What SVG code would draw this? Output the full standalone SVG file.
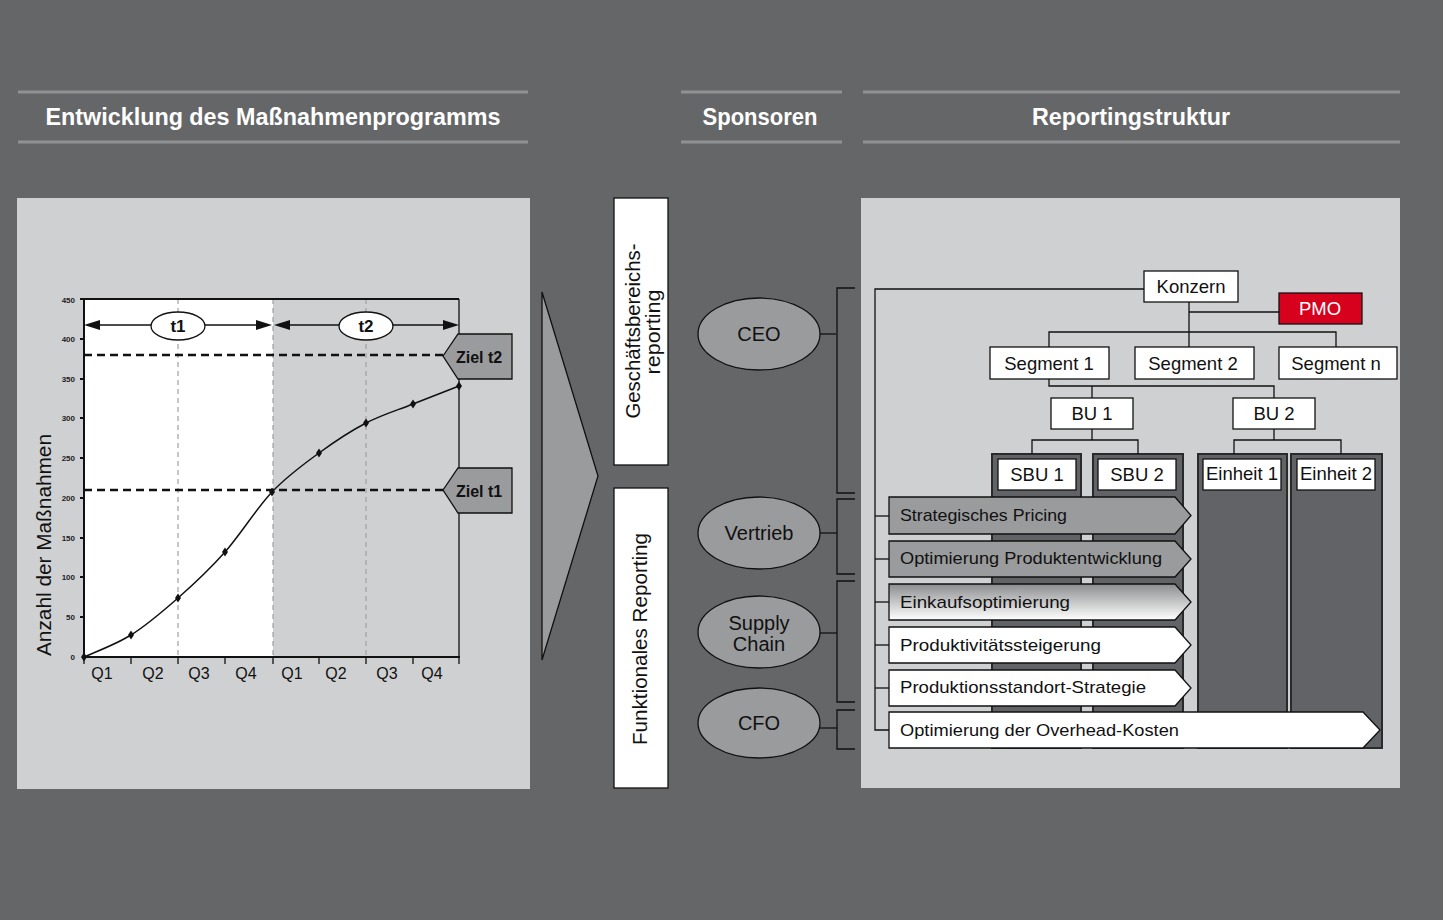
<svg xmlns="http://www.w3.org/2000/svg" width="1443" height="920" viewBox="0 0 1443 920">
<style>
.hdr{font-family:"Liberation Sans",Arial,sans-serif;font-weight:bold;font-size:23px;fill:#ffffff;text-anchor:middle}
.hl{stroke:#909193;stroke-width:3}
.t{font-family:"Liberation Sans",Arial,sans-serif;fill:#111}
.yl{font-family:"Liberation Sans",Arial,sans-serif;font-weight:bold;font-size:8px;fill:#222;text-anchor:end}
.q{font-family:"Liberation Sans",Arial,sans-serif;font-size:16px;fill:#111;text-anchor:middle}
.bx{fill:#fff;stroke:#111;stroke-width:1.3}
.col{fill:#626366;stroke:#2a2a2a;stroke-width:2}
.ln{stroke:#111;stroke-width:1.3;fill:none}
.ell{fill:#9a9b9d;stroke:#111;stroke-width:1.3}
.arr{stroke:#111;stroke-width:1.3}
.org{font-family:"Liberation Sans",Arial,sans-serif;font-size:18.5px;fill:#111;text-anchor:middle}
.at{font-family:"Liberation Sans",Arial,sans-serif;font-size:17px;fill:#111}
</style>
<defs>
<linearGradient id="g3" x1="0" y1="0" x2="0" y2="1">
<stop offset="0" stop-color="#8c8d8f"/>
<stop offset="1" stop-color="#ffffff"/>
</linearGradient>
<path id="dm" d="M0,-4.5 L3,0 L0,4.5 L-3,0Z" fill="#111"/>
</defs>
<rect width="1443" height="920" fill="#656668"/>

<!-- headers -->
<g id="headers">
<line class="hl" x1="18" y1="92" x2="528" y2="92"/>
<line class="hl" x1="18" y1="142" x2="528" y2="142"/>
<text class="hdr" x="273" y="125" textLength="455" lengthAdjust="spacingAndGlyphs">Entwicklung des Maßnahmenprogramms</text>
<line class="hl" x1="681" y1="92" x2="842" y2="92"/>
<line class="hl" x1="681" y1="142" x2="842" y2="142"/>
<text class="hdr" x="760" y="125" textLength="115" lengthAdjust="spacingAndGlyphs">Sponsoren</text>
<line class="hl" x1="863" y1="92" x2="1400" y2="92"/>
<line class="hl" x1="863" y1="142" x2="1400" y2="142"/>
<text class="hdr" x="1131" y="125" textLength="198" lengthAdjust="spacingAndGlyphs">Reportingstruktur</text>
</g>

<!-- left chart panel -->
<g id="chart">
<rect x="17" y="198" width="513" height="591" fill="#cfd0d2"/>
<rect x="84" y="299" width="189" height="358" fill="#ffffff"/>
<g stroke="#a0a1a3" stroke-width="1.2" stroke-dasharray="5 4">
<line x1="178" y1="299" x2="178" y2="657"/>
<line x1="273" y1="299" x2="273" y2="657"/>
<line x1="366" y1="299" x2="366" y2="657"/>
</g>
<line x1="84" y1="299" x2="459" y2="299" stroke="#111" stroke-width="2"/>
<line x1="459" y1="299" x2="459" y2="657" stroke="#111" stroke-width="1.3"/>
<line x1="84" y1="298" x2="84" y2="658" stroke="#111" stroke-width="2"/>
<line x1="83" y1="657" x2="460" y2="657" stroke="#111" stroke-width="2.2"/>
<g stroke="#111" stroke-width="1.3">
<line x1="84" y1="657" x2="84" y2="664"/>
<line x1="131" y1="657" x2="131" y2="664"/>
<line x1="178" y1="657" x2="178" y2="664"/>
<line x1="225" y1="657" x2="225" y2="664"/>
<line x1="273" y1="657" x2="273" y2="664"/>
<line x1="319" y1="657" x2="319" y2="664"/>
<line x1="366" y1="657" x2="366" y2="664"/>
<line x1="413" y1="657" x2="413" y2="664"/>
<line x1="459" y1="657" x2="459" y2="664"/>
</g>
<g stroke="#111" stroke-width="2">
<line x1="80" y1="299" x2="84" y2="299"/>
<line x1="80" y1="339" x2="84" y2="339"/>
<line x1="80" y1="379" x2="84" y2="379"/>
<line x1="80" y1="418" x2="84" y2="418"/>
<line x1="80" y1="458" x2="84" y2="458"/>
<line x1="80" y1="498" x2="84" y2="498"/>
<line x1="80" y1="538" x2="84" y2="538"/>
<line x1="80" y1="577" x2="84" y2="577"/>
<line x1="80" y1="617" x2="84" y2="617"/>
</g>
<text class="yl" x="75" y="303">450</text>
<text class="yl" x="75" y="342">400</text>
<text class="yl" x="75" y="382">350</text>
<text class="yl" x="75" y="421">300</text>
<text class="yl" x="75" y="461">250</text>
<text class="yl" x="75" y="501">200</text>
<text class="yl" x="75" y="541">150</text>
<text class="yl" x="75" y="580">100</text>
<text class="yl" x="75" y="620">50</text>
<text class="yl" x="75" y="660">0</text>
<text class="q" x="102" y="679">Q1</text>
<text class="q" x="153" y="679">Q2</text>
<text class="q" x="199" y="679">Q3</text>
<text class="q" x="246" y="679">Q4</text>
<text class="q" x="292" y="679">Q1</text>
<text class="q" x="336" y="679">Q2</text>
<text class="q" x="387" y="679">Q3</text>
<text class="q" x="432" y="679">Q4</text>
<text class="t" transform="translate(51,545) rotate(-90)" text-anchor="middle" font-size="20" textLength="222" lengthAdjust="spacingAndGlyphs">Anzahl der Maßnahmen</text>
<!-- target dashed lines -->
<g stroke="#111" stroke-width="2.5" stroke-dasharray="8 5">
<line x1="84" y1="355" x2="444" y2="355"/>
<line x1="84" y1="490" x2="444" y2="490"/>
</g>
<!-- period arrows -->
<line x1="98" y1="325" x2="260" y2="325" stroke="#111" stroke-width="1.3"/>
<polygon points="84,325 100,320 100,330" fill="#111"/>
<polygon points="272,325 256,320 256,330" fill="#111"/>
<line x1="288" y1="325" x2="445" y2="325" stroke="#111" stroke-width="1.3"/>
<polygon points="274,325 290,320 290,330" fill="#111"/>
<polygon points="459,325 443,320 443,330" fill="#111"/>
<ellipse cx="178" cy="326" rx="27" ry="14" fill="#fff" stroke="#111" stroke-width="1.3"/>
<text class="t" x="178" y="332" text-anchor="middle" font-size="17" font-weight="bold">t1</text>
<ellipse cx="366" cy="326" rx="27" ry="14" fill="#fff" stroke="#111" stroke-width="1.3"/>
<text class="t" x="366" y="332" text-anchor="middle" font-size="17" font-weight="bold">t2</text>
<!-- curve -->
<path d="M84,657 C91.8,653.3 115.3,644.8 131,635 C146.7,625.2 162.3,611.8 178,598 C193.7,584.2 209.3,569.7 225,552 C240.7,534.3 256.3,508.5 272,492 C287.7,475.5 303.3,464.5 319,453 C334.7,441.5 350.3,431.2 366,423 C381.7,414.8 397.5,410.2 413,404 C428.5,397.8 451.3,389 459,386" fill="none" stroke="#111" stroke-width="1.5"/>
<use href="#dm" x="84" y="657"/>
<use href="#dm" x="131" y="635"/>
<use href="#dm" x="178" y="598"/>
<use href="#dm" x="225" y="552"/>
<use href="#dm" x="272" y="492"/>
<use href="#dm" x="319" y="453"/>
<use href="#dm" x="366" y="423"/>
<use href="#dm" x="413" y="404"/>
<use href="#dm" x="459" y="386"/>
</g>
<g id="ziel-t2">
<polygon points="443,356 458,334 512,334 512,379 458,379" fill="#9a9b9d" stroke="#111" stroke-width="1.3"/>
<text class="t" x="456" y="363" font-size="16" font-weight="bold">Ziel t2</text>
</g>
<g id="ziel-t1">
<polygon points="443,490 458,468 512,468 512,513 458,513" fill="#9a9b9d" stroke="#111" stroke-width="1.3"/>
<text class="t" x="456" y="497" font-size="16" font-weight="bold">Ziel t1</text>
</g>

<!-- big arrow -->
<g id="big-arrow">
<polygon points="542,292 598,476 542,660" fill="#9a9b9d" stroke="#111" stroke-width="1.3"/>
</g>

<g id="box-gb">
<rect class="bx" x="614" y="198" width="54" height="267"/>
<text class="t" transform="translate(640,331) rotate(-90)" text-anchor="middle" font-size="20" textLength="175" lengthAdjust="spacingAndGlyphs">Geschäftsbereichs-</text>
<text class="t" transform="translate(660,332) rotate(-90)" text-anchor="middle" font-size="20" textLength="85" lengthAdjust="spacingAndGlyphs">reporting</text>
</g>
<g id="box-fr">
<rect class="bx" x="614" y="488" width="54" height="300"/>
<text class="t" transform="translate(647,639) rotate(-90)" text-anchor="middle" font-size="20" textLength="212" lengthAdjust="spacingAndGlyphs">Funktionales Reporting</text>
</g>

<!-- sponsors -->
<g id="ceo">
<ellipse class="ell" cx="759" cy="334" rx="61" ry="36"/>
<text class="t" x="759" y="341" text-anchor="middle" font-size="20">CEO</text>
</g>
<g id="vertrieb">
<ellipse class="ell" cx="759" cy="533" rx="61" ry="36"/>
<text class="t" x="759" y="540" text-anchor="middle" font-size="20">Vertrieb</text>
</g>
<g id="supply-chain">
<ellipse class="ell" cx="759" cy="632" rx="61" ry="36"/>
<text class="t" x="759" y="630" text-anchor="middle" font-size="20">Supply</text>
<text class="t" x="759" y="651" text-anchor="middle" font-size="20">Chain</text>
</g>
<g id="cfo">
<ellipse class="ell" cx="759" cy="723" rx="61" ry="35"/>
<text class="t" x="759" y="730" text-anchor="middle" font-size="20">CFO</text>
</g>

<!-- right panel -->
<rect x="861" y="198" width="539" height="590" fill="#cfd0d2"/>

<!-- columns -->
<g id="col-sbu1"><rect class="col" x="992" y="454" width="89" height="294"/><rect class="bx" x="998" y="459" width="78" height="31"/><text class="org" x="1037" y="481">SBU 1</text></g>
<g id="col-sbu2"><rect class="col" x="1093" y="454" width="90" height="294"/><rect class="bx" x="1098" y="459" width="78" height="31"/><text class="org" x="1137" y="481">SBU 2</text></g>
<g id="col-einheit1"><rect class="col" x="1198" y="454" width="89" height="294"/><rect class="bx" x="1203" y="459" width="78" height="31"/><text class="org" x="1242" y="480" font-size="16.5">Einheit 1</text></g>
<g id="col-einheit2"><rect class="col" x="1291" y="454" width="91" height="294"/><rect class="bx" x="1297" y="459" width="78" height="31"/><text class="org" x="1336" y="480" font-size="16.5">Einheit 2</text></g>

<!-- connectors -->
<g id="connectors" class="ln">
<polyline points="1144,289 875,289 875,730 889,730"/>
<line x1="875" y1="516" x2="889" y2="516"/>
<line x1="875" y1="559" x2="889" y2="559"/>
<line x1="875" y1="602" x2="889" y2="602"/>
<line x1="875" y1="645" x2="889" y2="645"/>
<line x1="875" y1="688" x2="889" y2="688"/>
<line x1="1189" y1="302" x2="1189" y2="347"/>
<line x1="1189" y1="312" x2="1279" y2="312"/>
<polyline points="1049,347 1049,332 1336,332 1336,347"/>
<polyline points="1049,379 1049,386 1274,386 1274,398"/>
<line x1="1092" y1="386" x2="1092" y2="398"/>
<polyline points="1032,454 1032,440 1138,440 1138,454"/>
<line x1="1092" y1="429" x2="1092" y2="440"/>
<polyline points="1234,454 1234,440 1341,440 1341,454"/>
<line x1="1274" y1="429" x2="1274" y2="440"/>
<line x1="836" y1="334" x2="820" y2="334"/>
<polyline points="855,288 837,288 837,493 855,493"/>
<line x1="820" y1="533" x2="837" y2="533"/>
<polyline points="855,499 837,499 837,574 855,574"/>
<line x1="820" y1="633" x2="837" y2="633"/>
<polyline points="855,581 837,581 837,702 855,702"/>
<line x1="820" y1="728" x2="837" y2="728"/>
<polyline points="855,710 837,710 837,749 855,749"/>
</g>

<!-- org boxes -->
<g id="konzern"><rect class="bx" x="1144" y="271" width="94" height="31"/><text class="org" x="1191" y="293">Konzern</text></g>
<g id="pmo"><rect x="1279" y="293" width="83" height="31" fill="#d7001d" stroke="#111" stroke-width="1.3"/><text class="org" x="1320" y="315" style="fill:#fff">PMO</text></g>
<g id="segment1"><rect class="bx" x="990" y="347" width="119" height="32"/><text class="org" x="1049" y="370">Segment 1</text></g>
<g id="segment2"><rect class="bx" x="1135" y="347" width="119" height="32"/><text class="org" x="1193" y="370">Segment 2</text></g>
<g id="segmentn"><rect class="bx" x="1279" y="347" width="118" height="32"/><text class="org" x="1336" y="370">Segment n</text></g>
<g id="bu1"><rect class="bx" x="1051" y="398" width="82" height="31"/><text class="org" x="1092" y="420">BU 1</text></g>
<g id="bu2"><rect class="bx" x="1233" y="398" width="82" height="31"/><text class="org" x="1274" y="420">BU 2</text></g>

<!-- initiative arrows -->
<g id="a1"><polygon class="arr" points="889,497 1175,497 1191,515.5 1175,534 889,534" fill="#9a9b9d"/><text class="at" x="900" y="521" textLength="167" lengthAdjust="spacingAndGlyphs">Strategisches Pricing</text></g>
<g id="a2"><polygon class="arr" points="889,541 1175,541 1191,559 1175,577 889,577" fill="#9a9b9d"/><text class="at" x="900" y="564" textLength="262" lengthAdjust="spacingAndGlyphs">Optimierung Produktentwicklung</text></g>
<g id="a3"><polygon class="arr" points="889,584 1175,584 1191,602 1175,620 889,620" fill="url(#g3)"/><text class="at" x="900" y="608" textLength="170" lengthAdjust="spacingAndGlyphs">Einkaufsoptimierung</text></g>
<g id="a4"><polygon class="arr" points="889,627 1175,627 1191,645 1175,663 889,663" fill="#fff"/><text class="at" x="900" y="651" textLength="201" lengthAdjust="spacingAndGlyphs">Produktivitätssteigerung</text></g>
<g id="a5"><polygon class="arr" points="889,670 1175,670 1191,688 1175,706 889,706" fill="#fff"/><text class="at" x="900" y="693" textLength="246" lengthAdjust="spacingAndGlyphs">Produktionsstandort-Strategie</text></g>
<g id="a6"><polygon class="arr" points="889,712 1363,712 1380,730 1363,748 889,748" fill="#fff"/><text class="at" x="900" y="736" textLength="279" lengthAdjust="spacingAndGlyphs">Optimierung der Overhead-Kosten</text></g>
</svg>
